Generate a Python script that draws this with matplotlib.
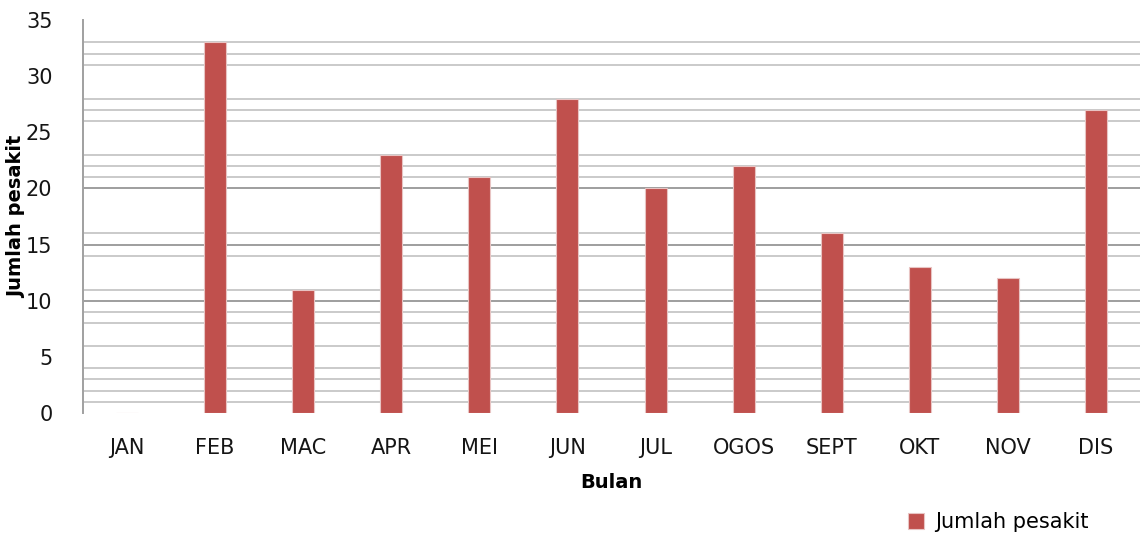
import numpy as np
import matplotlib.pyplot as plt

bulan = ['JAN', 'FEB', 'MAC', 'APR', 'MEI', 'JUN', 'JUL', 'OGOS', 'SEPT', 'OKT', 'NOV', 'DIS']
pesakit = [0, 33, 11, 23, 21, 28, 20, 22, 16, 13, 12, 27]
yticks = [0, 5, 10, 15, 20, 25, 30, 35]
# light gridlines as they show up in the picture
grid_light = [1, 2, 3, 4, 6, 8, 9, 11, 14, 16, 21, 22, 23, 26, 27, 28, 31, 32, 33]
grid_dark = [10, 15, 20]

plt.rcParams['font.family'] = 'DejaVu Sans'

fig = plt.figure(figsize=(11.4, 5.38), dpi=100)
ax = fig.add_axes([0.0728, 0.2323, 0.9272, 0.7305])

x = np.arange(len(bulan))
ax.bar(x, pesakit, width=0.25, color='#C0504D', edgecolor='#E8C4C3', linewidth=0.8, zorder=3,
       label='Jumlah pesakit')

for g in grid_light:
    ax.axhline(g, color='#C6C6C6', lw=1.3, zorder=1)
for g in grid_dark:
    ax.axhline(g, color='#9E9E9E', lw=1.4, zorder=1)

ax.set_xlim(-0.5, 11.5)
ax.set_ylim(0, 35)
ax.set_xticks(x)
ax.set_xticklabels(bulan, fontsize=15, color='#151515')
ax.set_yticks(yticks)
ax.set_yticklabels([str(v) for v in yticks], fontsize=15, color='#151515')
ax.set_yticks(grid_dark, minor=True)
ax.tick_params(axis='x', length=0, pad=18)
ax.tick_params(axis='y', which='major', length=0, pad=22)
ax.tick_params(axis='y', which='minor', length=7.5, width=1.4, color='#9E9E9E')

for s in ['top', 'right', 'bottom']:
    ax.spines[s].set_visible(False)
ax.spines['left'].set_color('#A0A0A0')
ax.spines['left'].set_linewidth(1.4)

ax.set_xlabel('Bulan', fontsize=14, fontweight='bold')
ax.xaxis.set_label_coords(0.5, -0.1756)
ax.xaxis.label.set_va('center')
ax.set_ylabel('Jumlah pesakit', fontsize=14, fontweight='bold')
ax.yaxis.set_label_coords(-0.0625, 0.5)
ax.yaxis.label.set_va('center')
ax.yaxis.label.set_zorder(5)

fig.legend(loc='center', bbox_to_anchor=(998 / 1140, 1 - 522 / 538), frameon=False,
           fontsize=15, handlelength=0.8, handleheight=0.8, handletextpad=0.5)

fig.savefig('out.png', dpi=100)
